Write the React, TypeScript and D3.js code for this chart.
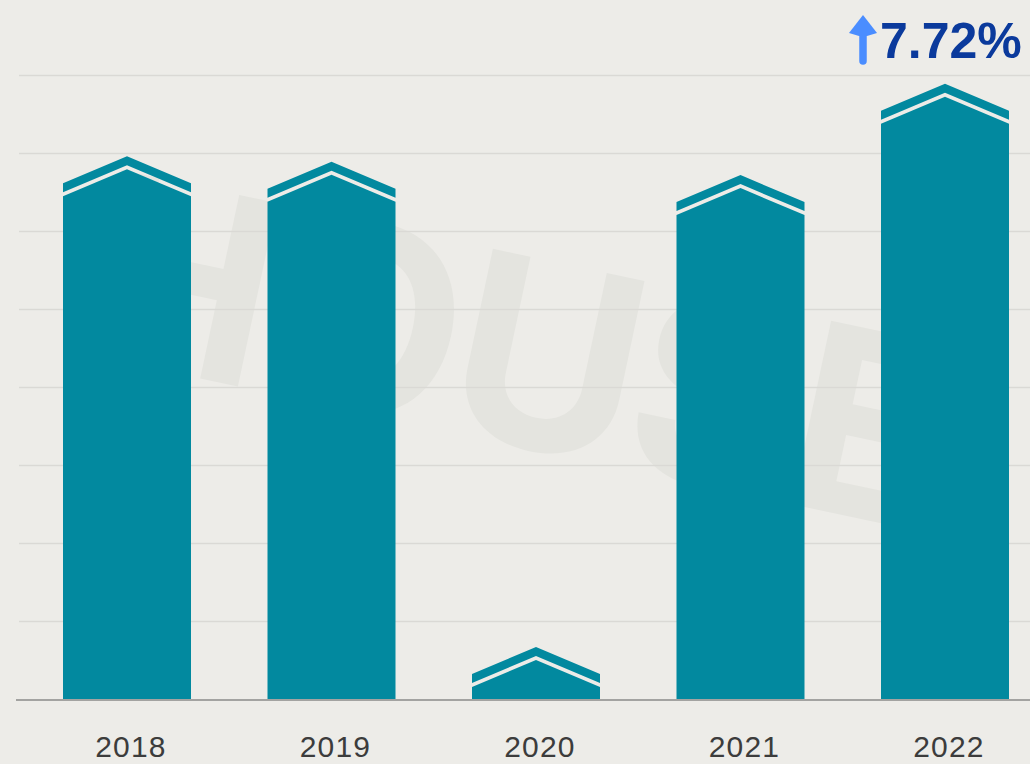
import React, { useEffect, useRef } from 'react';
import * as d3 from 'd3';

// yearly values (index, one gridline = 100)
const years = ['2018', '2019', '2020', '2021', '2022'];
const values = [697, 690, 68, 673, 790];
const gridTicks = [100, 200, 300, 400, 500, 600, 700, 800];
const growthLabel = '7.72%';

const W = 1030;
const H = 764;

function App() {
  const ref = useRef<SVGSVGElement | null>(null);

  useEffect(() => {
    const svg = d3.select(ref.current);
    svg.selectAll('*').remove();

    const x = d3.scalePoint<string>().domain(years).range([127, 945]);
    const y = d3.scaleLinear().domain([0, 800]).range([700, 76]);
    const hw = 64; // half bar width
    const base = y(0);

    svg.append('rect').attr('width', W).attr('height', H).attr('fill', '#EDECE8');

    // faint watermark
    svg.append('text')
      .attr('transform', 'translate(66,350) rotate(12)')
      .attr('font-family', 'Inter, "Open Sans", sans-serif')
      .attr('font-weight', 700)
      .attr('font-size', 258)
      .attr('letter-spacing', -6)
      .attr('fill', '#E4E4DF')
      .text('HOUSE');

    // gridlines
    svg.append('g')
      .selectAll('line')
      .data(gridTicks)
      .join('line')
      .attr('x1', 19)
      .attr('x2', W)
      .attr('y1', d => Math.round(y(d)) - 0.5)
      .attr('y2', d => Math.round(y(d)) - 0.5)
      .attr('stroke', '#DAD9D5')
      .attr('stroke-width', 1.5);

    const bars = svg.append('g')
      .selectAll('g')
      .data(years.map((yr, i) => ({ yr, v: values[i] })))
      .join('g');

    // roof (chevron)
    bars.append('path')
      .attr('fill', '#02899F')
      .attr('d', d => {
        const cx = x(d.yr)!;
        const p = y(d.v);
        return `M${cx - hw},${p + 27}L${cx},${p}L${cx + hw},${p + 27}L${cx + hw},${p + 36}L${cx},${p + 9}L${cx - hw},${p + 36}Z`;
      });

    // body
    bars.append('path')
      .attr('fill', '#02899F')
      .attr('d', d => {
        const cx = x(d.yr)!;
        const p = y(d.v);
        return `M${cx - hw},${base}L${cx - hw},${p + 40}L${cx},${p + 13}L${cx + hw},${p + 40}L${cx + hw},${base}Z`;
      });

    // baseline
    svg.append('line')
      .attr('x1', 16)
      .attr('x2', W)
      .attr('y1', base)
      .attr('y2', base)
      .attr('stroke', '#A3A3A1')
      .attr('stroke-width', 2);

    // year labels
    svg.append('g')
      .selectAll('text')
      .data(years)
      .join('text')
      .attr('x', d => x(d)! + 4)
      .attr('y', 757)
      .attr('text-anchor', 'middle')
      .attr('font-family', '"Liberation Sans", Arial, sans-serif')
      .attr('font-size', 30)
      .attr('letter-spacing', 1.2)
      .attr('fill', '#3C3C3C')
      .text(d => d);

    // growth annotation above last bar
    const ax = x(years[years.length - 1])! - 82;
    const note = svg.append('g');
    note.append('line')
      .attr('x1', ax).attr('x2', ax)
      .attr('y1', 30).attr('y2', 61)
      .attr('stroke', '#4A8DFF')
      .attr('stroke-width', 7.5)
      .attr('stroke-linecap', 'round');
    note.append('path')
      .attr('fill', '#4A8DFF')
      .attr('d', `M${ax},15L${ax + 14},33L${ax + 4},36L${ax - 4},36L${ax - 14},33Z`);
    note.append('text')
      .attr('x', ax + 17)
      .attr('y', 58)
      .attr('font-family', '"Liberation Sans", Arial, sans-serif')
      .attr('font-weight', 700)
      .attr('font-size', 50)
      .attr('fill', '#0B3A9C')
      .text(growthLabel);
  }, []);

  return (
    <svg
      ref={ref}
      width={W}
      height={H}
      style={{ position: 'absolute', left: 0, top: 0, display: 'block' }}
    />
  );
}

export default App;
